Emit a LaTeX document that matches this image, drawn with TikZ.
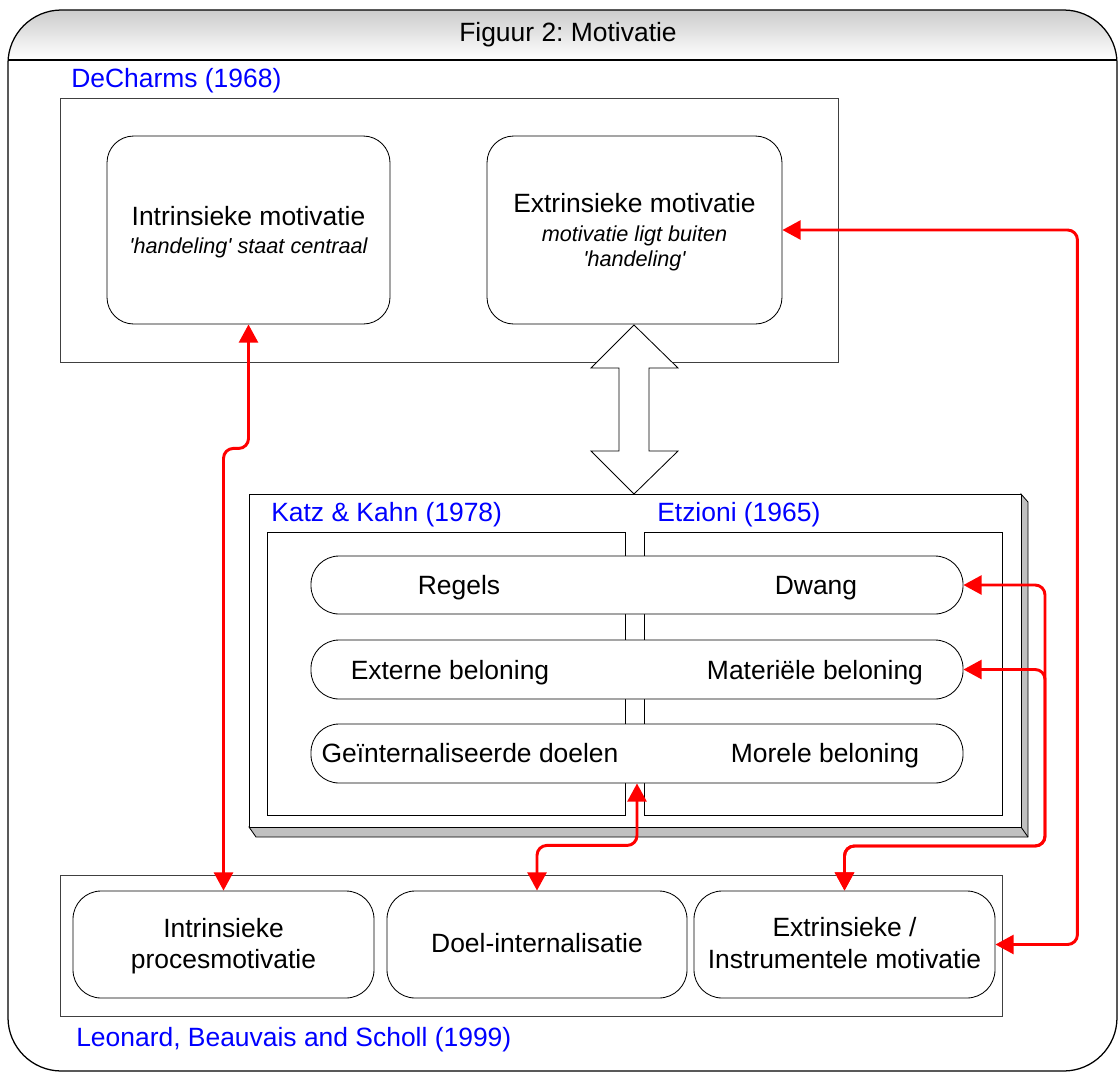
\documentclass[tikz,border=0pt]{standalone}
\usepackage{fontspec}
\setmainfont{Liberation Sans}
\usetikzlibrary{arrows.meta,fit}
\frenchspacing
\newcommand\fmain{\fontsize{18.8}{22.8}\selectfont}
\newcommand\fital{\fontsize{15.4}{18.5}\selectfont\itshape}
\definecolor{lblue}{RGB}{0,0,255}
\definecolor{dred}{RGB}{255,0,0}
\definecolor{sidegray}{RGB}{192,192,192}
\begin{document}
\begin{tikzpicture}[x=0.025cm,y=-0.025cm,
  rbox/.style={draw=black, line width=0.6pt, fill=white, rounded corners=19pt, inner sep=0pt},
  frame/.style={draw=black!75, line width=0.7pt, fill=white, inner sep=0pt},
  pill/.style={draw=black, line width=0.6pt, fill=white, rounded corners=20pt, inner sep=0pt},
  txt/.style={font=\fmain, inner sep=0pt, anchor=base},
  itxt/.style={font=\fital, inner sep=0pt, anchor=base},
  lbl/.style={font=\fmain, text=lblue, inner sep=0pt, anchor=base west},
  conn/.style={draw=dred, line width=2.1pt, rounded corners=7pt,
    {Triangle[length=13pt,width=13.5pt]}-{Triangle[length=13pt,width=13.5pt]}},
]
\useasboundingbox (0,0) rectangle (1120,1074);
% outer frame with header
\begin{scope}
  \clip[rounded corners=38pt] (8,10) rectangle (1117,1071);
  \shade[top color=black!20, bottom color=white] (8,10) rectangle (1117,60);
\end{scope}
\draw[line width=0.9pt] (8,60) -- (1117,60);
\draw[line width=0.9pt, rounded corners=38pt] (8,10) rectangle (1117,1071);
\node[txt] (title) at (568,41) {Figuur 2: Motivatie};

% DeCharms
\node[lbl] (decharms) at (71,87) {DeCharms (1968)};
\node[frame, fit={(60,98) (838,362)}] (dc) {};
\node[rbox, fit={(107,136) (390,324)}] (intr) {};
\node[rbox, fit={(487,136) (782,324)}] (ext) {};
\node[txt] (intrT) at (248.5,225) {Intrinsieke motivatie};
\node[itxt] (intrS) at (248.5,253) {\textquotesingle handeling\textquotesingle\ staat centraal};
\node[txt] (extT) at (634.5,212) {Extrinsieke motivatie};
\node[itxt] (extS1) at (634.5,241) {motivatie ligt buiten};
\node[itxt] (extS2) at (634.5,266) {\textquotesingle handeling\textquotesingle};

% double arrow
\draw[fill=white, line width=0.6pt] (634,325) -- (678,368) -- (649,368) -- (649,451)
  -- (678,451) -- (634,494) -- (591,451) -- (619,451) -- (619,368) -- (591,368) -- cycle;

% Katz & Kahn / Etzioni 3D box
\draw[fill=sidegray, line width=0.6pt] (1021,494) -- (1028,502) -- (1028,837) -- (256,837)
  -- (249,827) -- (1021,827) -- cycle;
\draw[line width=0.6pt] (1021,827) -- (1028,837);
\node[frame, draw=black, fit={(249,494) (1021,827)}] (katz) {};
\node[lbl] (katzL) at (271,521) {Katz \& Kahn (1978)};
\node[lbl] (etzL) at (657,521) {Etzioni (1965)};
\node[frame, draw=black, fit={(267,532) (625,815)}] (kk) {};
\node[frame, draw=black, fit={(644,532) (1002,815)}] (etz) {};
\node[pill, fit={(311,556) (963,614)}] (p1) {};
\node[pill, fit={(311,640) (963,699)}] (p2) {};
\node[pill, fit={(311,724) (963,783)}] (p3) {};
\node[txt] (regels) at (459,594) {Regels};
\node[txt] (dwang) at (816,594) {Dwang};
\node[txt] (extbel) at (450,679) {Externe beloning};
\node[txt] (matbel) at (815,679) {Materiële beloning};
\node[txt] (geint) at (470,762) {Geïnternaliseerde doelen};
\node[txt] (morbel) at (825,762) {Morele beloning};

% Leonard, Beauvais and Scholl
\node[frame, fit={(60,875) (1002,1016)}] (leo) {};
\node[rbox, rounded corners=20pt, fit={(73,891) (374,998)}] (proc) {};
\node[rbox, rounded corners=20pt, fit={(387,891) (687,998)}] (doel) {};
\node[rbox, rounded corners=20pt, fit={(694,891) (995,998)}] (extr) {};
\node[txt] (procT1) at (223.5,937) {Intrinsieke};
\node[txt] (procT2) at (223.5,968) {procesmotivatie};
\node[txt] (doelT) at (537,952) {Doel-internalisatie};
\node[txt] (extrT1) at (844.5,936) {Extrinsieke /};
\node[txt] (extrT2) at (844.5,968) {Instrumentele motivatie};
\node[lbl] (leoL) at (76,1046) {Leonard, Beauvais and Scholl (1999)};

% connectors
\coordinate (j) at (1045,846);
\draw[conn] (intr.south) -- ++(0,124) -| (proc.north);
\draw[conn] (ext.east) -- ++(295,0) |- (extr.east);
\draw[conn] (p1.east) -| (j) -| (extr.north);
\draw[conn] (p2.east) -| (j) -| (extr.north);
\draw[conn] (p3.south) -- ++(0,62) -| (doel.north);
\end{tikzpicture}
\end{document}
